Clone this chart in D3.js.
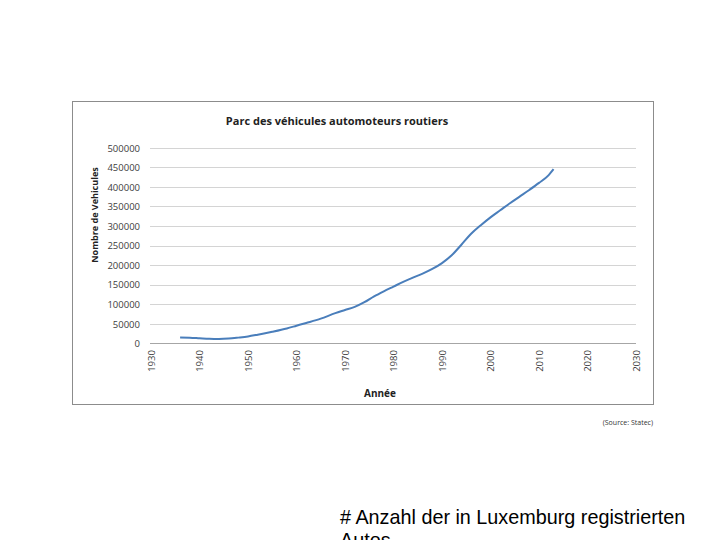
<!DOCTYPE html>
<html><head><meta charset="utf-8">
<script src="https://cdn.jsdelivr.net/npm/d3@7"></script>
<style>body{margin:0;background:#fff;}svg{display:block;}</style>
</head><body>
<script>
const years = [1936,1938,1940,1942,1944,1946,1948,1950,1952,1955,1958,1960,1962,1965,1968,1970,1972,1974,1976,1978,1980,1982,1984,1986,1988,1990,1992,1994,1996,1998,2000,2002,2004,2006,2008,2010,2012,2013];
const vehicles = [15000,14500,13000,11500,11000,12000,14500,17500,22000,29500,38000,45000,52000,63000,77000,85000,93000,105000,120000,133000,145000,157000,168000,178000,190000,205000,225000,252000,280000,302000,322000,340000,358000,375000,392000,410000,430000,445000];
const xTicks = [1930,1940,1950,1960,1970,1980,1990,2000,2010,2020,2030];
const yTicks = [0,50000,100000,150000,200000,250000,300000,350000,400000,450000,500000];
const yTickLabels = ["0","50000","100000","150000","200000","250000","300000","350000","400000","450000","500000"];
const title = "Parc des véhicules automoteurs routiers";
const yTitle = "Nombre de Vehicules";
const xTitle = "Année";
const source = "(Source: Statec)";
const caption = ["# Anzahl der in Luxemburg registrierten", "Autos"];

const svg = d3.select("body").append("svg").attr("width",720).attr("height",540);
svg.append("rect").attr("x",72.5).attr("y",101.5).attr("width",581).attr("height",303)
  .attr("fill","#fff").attr("stroke","#8c8c8c").attr("stroke-width",1);

const x = d3.scaleLinear().domain([1930,2030]).range([151,636]);
const y = d3.scaleLinear().domain([0,500000]).range([343.3,147.7]);

const font = "'Open Sans', 'Liberation Sans', sans-serif";

svg.append("g").selectAll("line").data(yTicks).join("line")
  .attr("x1",150).attr("x2",636)
  .attr("y1",d=>Math.round(y(d))+0.5).attr("y2",d=>Math.round(y(d))+0.5)
  .attr("stroke",d=>d===0?"#a6a6a6":"#d4d4d4").attr("stroke-width",1.2);

const yAxis = d3.axisLeft(y).tickValues(yTicks).tickSize(0).tickPadding(0)
  .tickFormat((d,i)=>yTickLabels[i]);
const gy = svg.append("g").attr("transform","translate(140,0)").call(yAxis);
gy.select(".domain").remove();
gy.selectAll("text").attr("font-family",font).attr("font-size","9.5px").attr("fill","#404040").attr("dy","0.35em");

const xAxis = d3.axisBottom(x).tickValues(xTicks).tickSize(0).tickFormat(d3.format("d"));
const gx = svg.append("g").attr("transform","translate(0,349)").call(xAxis);
gx.select(".domain").remove();
gx.selectAll("text").attr("font-family",font).attr("font-size","9.5px").attr("fill","#404040")
  .attr("transform","rotate(-90)").attr("text-anchor","middle").attr("x",-12).attr("y",0).attr("dy","0.35em");

const line = d3.line().x((d,i)=>x(years[i])).y(d=>y(d)).curve(d3.curveMonotoneX);
svg.append("path").datum(vehicles).attr("d",line).attr("fill","none")
  .attr("stroke","#4a7ebb").attr("stroke-width",2).attr("stroke-linejoin","round");

svg.append("text").attr("x",337).attr("y",125).attr("text-anchor","middle")
  .attr("font-family",font).attr("font-weight","bold").attr("font-size","11px").attr("fill","#222").text(title);
svg.append("text").attr("transform","translate(98,215) rotate(-90)").attr("text-anchor","middle")
  .attr("font-family",font).attr("font-weight","bold").attr("font-size","9px").attr("fill","#222").text(yTitle);
svg.append("text").attr("x",380).attr("y",397).attr("text-anchor","middle")
  .attr("font-family",font).attr("font-weight","bold").attr("font-size","10px").attr("fill","#222").text(xTitle);
svg.append("text").attr("x",653).attr("y",425).attr("text-anchor","end")
  .attr("font-family",font).attr("font-size","7px").attr("fill","#333").text(source);
svg.append("g").selectAll("text").data(caption).join("text")
  .attr("x",340).attr("y",(d,i)=>524+i*23)
  .attr("font-family","'Liberation Sans', Arial, sans-serif").attr("font-size","19.8px").attr("fill","#000").text(d=>d);
</script>
</body></html>
